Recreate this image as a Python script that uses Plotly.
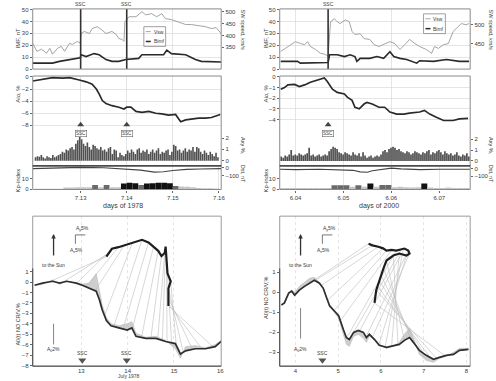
import numpy as np
import plotly.graph_objects as go

W, H = 496, 381

# ======================= DATA : July 1978 event =======================
ssc_1978 = [13.0, 14.0]
day_ticks_1978 = [13, 14, 15, 16]
day_ticklabels_1978 = ["7.13", "7.14", "7.15", "7.16"]

vsw78_day = [11.96, 12.05, 12.15, 12.26, 12.33, 12.39, 12.50, 12.58, 12.65, 12.76,
             12.82, 12.93, 12.99, 13.01, 13.08, 13.19, 13.25, 13.36, 13.45, 13.55,
             13.68, 13.77, 13.83, 13.90, 13.94, 13.96, 14.05, 14.20, 14.33, 14.41,
             14.54, 14.65, 14.76, 14.84, 14.97, 15.12, 15.28, 15.40, 15.56, 15.71,
             15.84, 15.94, 16.05]
vsw78 = [367, 333, 342, 325, 346, 321, 346, 354, 333, 367,
         362, 375, 367, 408, 417, 408, 429, 437, 425, 408,
         417, 404, 387, 383, 375, 458, 479, 479, 500, 487,
         492, 479, 492, 471, 467, 458, 446, 446, 442, 437,
         429, 433, 408]

bimf78_day = [11.96, 12.39, 12.54, 12.76, 12.93, 12.99, 13.01, 13.12, 13.29, 13.40,
              13.55, 13.68, 13.83, 13.98, 14.26, 14.33, 14.63, 14.80, 14.87, 14.97,
              15.28, 15.49, 15.62, 15.84, 16.05]
bimf78 = [5, 5, 6.5, 8, 9, 9.5, 12, 10.5, 13, 12,
          8, 6.5, 6.5, 8, 9, 12, 12, 12, 16, 13,
          12, 8, 6.5, 6.5, 6]

aio78_day = [11.96, 12.18, 12.39, 12.61, 12.76, 12.97, 13.12, 13.25, 13.34, 13.40,
             13.47, 13.55, 13.68, 13.83, 13.94, 14.00, 14.09, 14.20, 14.33, 14.48,
             14.63, 14.76, 14.91, 15.06, 15.17, 15.28, 15.40, 15.56, 15.71, 15.84,
             16.03]
aio78 = [-0.66, -0.4, -0.1, -0.2, -0.1, -0.5, -0.8, -1.2, -2.0, -2.8,
         -3.9, -4.4, -4.75, -5.0, -5.3, -5.0, -5.0, -5.7, -5.85, -5.7,
         -6.0, -6.1, -6.3, -6.2, -7.4, -7.1, -6.95, -6.8, -6.8, -6.7,
         -6.2]

axy78_start = 12.0   # hourly values from July 12.0
axy78 = [0.3, 0.4, 0.35, 0.5, 0.3, 0.2, 0.4, 0.3, 0.25, 0.5, 0.3, 0.4,
         0.5, 0.6, 0.8, 0.7, 1.0, 0.9, 1.1, 1.2, 1.0, 1.5, 1.8, 2.1,
         1.9, 1.5, 1.3, 1.6, 1.2, 1.0, 1.4, 1.3, 1.1, 1.0, 1.2, 0.9,
         1.0, 0.8, 1.1, 1.2, 0.6, 1.0, 0.9, 0.3, 0.7, 0.5, 0.4, 0.6,
         0.9, 0.7, 1.0, 0.8, 0.6, 1.0, 1.1, 0.7, 0.9, 0.8, 1.0, 0.6,
         0.8, 1.0, 0.7, 0.9, 1.1, 0.6, 0.8, 0.7, 0.9, 1.0, 0.5, 0.8,
         1.4, 1.3, 0.9, 1.0, 0.7, 0.9, 1.1, 0.8, 1.0, 0.9, 1.2, 0.8,
         1.2, 1.1, 0.8, 0.6, 0.9, 0.7, 0.5, 0.8, 0.6, 0.4, 0.7, 0.3]

kp78_start = 12.0    # 3-hourly values
kp78 = [0.5, 0.5, 0.5, 0.5, 0.5, 1.7, 1.7, 2.0,
        2.0, 2.0, 4.0, 2.0, 4.0, 2.0, 2.0, 5.3,
        6.0, 5.7, 4.0, 5.3, 5.7, 6.0, 6.0, 5.7,
        3.0, 2.7, 2.3, 2.0, 1.3, 1.0, 1.0, 0.7]

dst78_day = [11.96, 12.5, 13.0, 13.5, 14.0, 14.3, 14.6, 14.8, 15.0, 15.3, 15.6, 16.05]
dst78 = [-10, -5, 5, 0, -15, -30, -55, -50, -35, -20, -15, -10]

a0_78_day = [11.99, 12.16, 12.38, 12.53, 12.68, 12.89, 13.02, 13.17, 13.32, 13.39,
             13.45, 13.54, 13.64, 13.81, 13.99, 14.09, 14.18, 14.39, 14.61, 14.82,
             15.03, 15.14, 15.25, 15.46, 15.68, 15.89, 16.02]
a0_78 = [-0.3, -0.1, 0.08, -0.1, 0.08, -0.1, -0.3, -0.58, -0.87, -1.7,
         -2.66, -3.7, -4.2, -4.4, -4.6, -4.4, -5.2, -5.4, -5.4, -5.7,
         -5.9, -6.9, -6.6, -6.4, -6.4, -6.2, -5.7]
a0raw_78 = [-0.3, -0.2, 0.2, -0.2, 0.1, -0.1, -0.2, -0.1, 0.8, -0.8,
            -2.2, -3.4, -4.0, -4.2, -4.0, -3.8, -4.9, -5.3, -5.2, -5.6,
            -6.4, -7.3, -6.2, -6.1, -6.3, -6.0, -5.6]

hodo78_t = [12.3, 12.6, 12.9, 13.1, 13.3, 13.5, 13.7, 13.9, 14.1, 14.3,
            14.5, 14.65, 14.75, 14.85, 14.95, 15.05, 15.2, 15.4, 15.6, 15.85]
hodo78_x = [13.54, 13.60, 13.66, 13.80, 13.92, 14.10, 14.31, 14.45, 14.56, 14.66,
            14.73, 14.80, 14.82, 14.84, 14.86, 14.93, 14.88, 14.88, 14.87, 14.88]
hodo78_y = [2.45, 2.8, 3.2, 3.35, 3.5, 3.75, 4.06, 3.8, 3.4, 3.0,
            2.5, 2.8, 3.4, 2.07, 0.84, 0.08, -0.6, -1.53, -2.0, -2.29]

# ======================= DATA : June 2000 event =======================
ssc_2000 = [4.68]
day_ticks_2000 = [4, 5, 6, 7]
day_ticklabels_2000 = ["6.04", "6.05", "6.06", "6.07"]

vsw00_day = [3.69, 3.79, 3.90, 4.00, 4.10, 4.19, 4.25, 4.31, 4.42, 4.52,
             4.62, 4.68, 4.73, 4.81, 4.87, 4.93, 5.04, 5.12, 5.18, 5.24,
             5.35, 5.43, 5.55, 5.64, 5.74, 5.84, 5.97, 6.07, 6.18, 6.28,
             6.38, 6.49, 6.59, 6.73, 6.84, 6.90, 6.98, 7.09, 7.19, 7.29,
             7.36, 7.46, 7.56, 7.62]
vsw00 = [429, 437, 447, 455, 450, 447, 455, 442, 434, 424,
         421, 416, 508, 516, 508, 503, 513, 508, 482, 474,
         476, 463, 461, 447, 442, 447, 455, 450, 434, 447,
         461, 450, 442, 434, 424, 442, 437, 447, 450, 482,
         490, 503, 500, 503]

bimf00_day = [3.69, 4.04, 4.10, 4.60, 4.68, 4.71, 4.87, 5.02, 5.14, 5.24,
              5.28, 5.35, 5.55, 5.70, 5.84, 5.97, 6.05, 6.18, 6.32, 6.53,
              6.59, 6.88, 7.15, 7.42, 7.62]
bimf00 = [6.5, 6.5, 5, 5, 5.5, 12, 12, 10.5, 12, 10.5,
          6.5, 9, 9, 10.5, 9, 14.5, 10.5, 9, 8, 5,
          7, 6.5, 8, 6.5, 6.5]

aio00_day = [3.69, 3.77, 3.84, 3.98, 4.08, 4.19, 4.31, 4.46, 4.56, 4.60,
             4.66, 4.77, 4.87, 5.02, 5.08, 5.18, 5.24, 5.33, 5.43, 5.49,
             5.60, 5.74, 5.86, 5.97, 6.11, 6.26, 6.38, 6.59, 6.69, 6.80,
             6.94, 7.09, 7.29, 7.42, 7.60]
aio00 = [-1.15, -1.0, -0.75, -0.7, -0.9, -0.75, -0.5, -0.3, -0.2, -0.1,
         -0.4, -1.15, -1.45, -1.6, -1.9, -2.2, -2.85, -3.0, -2.55, -2.4,
         -2.55, -2.85, -2.85, -3.3, -3.5, -3.5, -3.4, -3.3, -3.15, -3.5,
         -3.8, -4.1, -4.1, -3.95, -3.9]

axy00_start = 3.68
axy00 = [0.4, 0.3, 0.5, 0.4, 0.6, 1.0, 0.5, 0.6, 0.5, 0.7, 0.6, 0.5,
         0.6, 0.7, 1.2, 0.5, 0.6, 0.4, 0.5, 0.6, 0.4, 0.5, 0.6, 0.5,
         0.9, 1.1, 1.3, 1.2, 1.1, 0.8, 0.7, 0.6, 0.8, 0.7, 0.6, 0.5,
         0.8, 0.6, 0.5, 0.7, 0.4, 0.8, 0.5, 0.3, 0.4, 0.5, 0.3, 0.4,
         0.5, 0.4, 0.6, 0.9, 1.0, 0.8, 1.1, 1.2, 1.3, 1.2, 1.0, 1.1,
         0.9, 0.8, 0.7, 0.9, 0.8, 0.6, 0.7, 0.9, 0.8, 0.7, 0.6, 0.8,
         0.7, 0.9, 1.0, 0.6, 0.8, 0.7, 0.9, 1.0, 0.8, 0.6, 0.9, 0.7,
         0.6, 0.7, 0.5, 0.6, 0.8, 0.5, 0.4, 0.6, 0.5, 0.7, 0.4]

kp00_start = 3.625
kp00 = [1.3, 1.3, 1.3, 1.3, 1.3, 1.3, 1.3, 1.3, 1.3, 3.7,
        3.7, 3.7, 2.3, 3.7, 2.3, 5.3, 2.3, 4.0, 4.0, 2.0,
        2.3, 2.0, 1.7, 2.0, 5.3, 1.7, 1.3, 1.3, 1.7, 1.3,
        1.3, 1.3]

dst00_day = [3.67, 4.0, 4.5, 4.8, 5.2, 5.35, 5.5, 5.6, 5.8, 6.0, 6.2, 6.6, 7.0, 7.64]
dst00 = [-5, -10, -5, -15, -20, -40, -45, -25, -10, 10, 0, -10, -5, -5]

a0_00_day = [3.67, 3.74, 3.84, 3.91, 3.98, 4.09, 4.21, 4.33, 4.44, 4.56,
             4.65, 4.73, 4.80, 4.91, 5.01, 5.12, 5.19, 5.26, 5.36, 5.47,
             5.59, 5.66, 5.73, 5.85, 5.96, 6.13, 6.29, 6.43, 6.55, 6.67,
             6.76, 6.90, 7.06, 7.23, 7.37, 7.53, 7.70, 7.84, 8.05]
a0_00 = [-0.63, -0.53, -0.04, 0.06, -0.14, 0.11, 0.3, 0.46, 0.6, 0.46,
         0.2, -0.28, -0.68, -0.93, -1.17, -1.86, -2.26, -2.36, -2.0, -1.9,
         -2.0, -2.26, -2.1, -2.36, -2.65, -2.75, -2.65, -2.6, -2.4, -2.26,
         -2.5, -2.9, -3.15, -3.35, -3.25, -3.15, -3.1, -2.9, -2.85]
a0raw_00 = [-0.63, -0.5, 0.0, 0.1, 0.0, 0.3, 0.5, 0.7, 0.75, 0.5,
            0.2, -0.3, -0.7, -1.0, -1.3, -2.1, -2.6, -2.7, -2.2, -2.1,
            -2.3, -2.5, -2.2, -2.3, -2.6, -2.8, -2.7, -2.5, -2.1, -1.8,
            -2.3, -3.1, -3.4, -3.5, -3.3, -3.2, -3.0, -2.8, -2.8]

hodo00_t = [4.3, 4.45, 4.6, 4.75, 4.9, 5.05, 5.2, 5.35, 5.5, 5.65, 5.8,
            5.95, 6.1, 6.25, 6.4, 6.55, 6.7, 6.85, 7.0, 7.15, 7.3, 7.5]
hodo00_x = [5.71, 5.80, 5.94, 6.05, 6.13, 6.25, 6.36, 6.48, 6.55, 6.64, 6.67,
            6.60, 6.50, 6.43, 6.29, 6.13, 6.06, 6.00, 5.96, 5.92, 5.89, 5.85]
hodo00_y = [2.43, 2.35, 2.28, 2.2, 2.09, 2.12, 2.09, 2.15, 2.19, 2.09, 1.94,
            1.84, 1.92, 1.94, 1.84, 1.59, 1.2, 0.85, 0.6, 0.3, 0.11, -0.53]

# ======================= helpers / styling =======================
FONT = "Liberation Sans, Arial, sans-serif"
TXT = "#3a3a3a"
GRID = "#d4d4d4"
tickfont = dict(family=FONT, size=6, color=TXT)


def pxx(x):
    return x / W


def pyy(y):
    return 1 - y / H


def ydom(top, bot):
    return [1 - bot / H, 1 - top / H]


XL = [33 / W, 223 / W]
XR = [282 / W, 474 / W]
D_TOP = ydom(7, 68)
D_MID = ydom(75, 166)
D_KP = ydom(166, 190)
D_BOT = ydom(217, 369)

fig = go.Figure()
layout = dict(width=W, height=H, margin=dict(l=0, r=0, t=0, b=0), autosize=False,
              paper_bgcolor="white", plot_bgcolor="white", showlegend=False,
              font=dict(family=FONT, size=6, color=TXT), bargap=0.12)
shapes = []
annotations = []


def xax(dom, rng, anchor, tickvals, ticktext=None, labels=False, griddash="solid", ticks=True):
    d = dict(domain=dom, range=rng, anchor=anchor, showgrid=True, gridcolor=GRID,
             gridwidth=0.6, griddash=griddash, zeroline=False, showline=False,
             tickvals=tickvals, showticklabels=labels, tickfont=tickfont,
             ticks="outside" if (labels and ticks) else "", ticklen=2, tickcolor="#666")
    if ticktext is not None:
        d["ticktext"] = ticktext
    return d


def yax(dom, rng, anchor, tickvals, ticktext=None, side="left", overlay=None, grid=False):
    d = dict(domain=dom, range=rng, anchor=anchor, side=side, showgrid=grid,
             gridcolor=GRID, gridwidth=0.6, zeroline=False, showline=False,
             tickvals=tickvals, tickfont=tickfont, ticks="outside", ticklen=2,
             tickcolor="#666")
    if ticktext is not None:
        d["ticktext"] = ticktext
    if overlay:
        d["overlaying"] = overlay
        d.pop("domain")
    return d


def frame(x0, y0, x1, y1, color="#8a8a8a", width=1):
    shapes.append(dict(type="rect", xref="paper", yref="paper", x0=pxx(x0), x1=pxx(x1),
                       y0=pyy(y1), y1=pyy(y0), line=dict(color=color, width=width),
                       fillcolor="rgba(0,0,0,0)", layer="above"))


def text(x, y, s, size=6, angle=0, anchor="center", color=TXT, **kw):
    annotations.append(dict(x=pxx(x), y=pyy(y), xref="paper", yref="paper", text=s,
                            showarrow=False, textangle=angle, xanchor=anchor,
                            yanchor="middle", font=dict(family=FONT, size=size, color=color), **kw))


def pline(x0, y0, x1, y1, color="#444", width=1):
    shapes.append(dict(type="line", xref="paper", yref="paper", x0=pxx(x0), x1=pxx(x1),
                       y0=pyy(y0), y1=pyy(y1), line=dict(color=color, width=width)))


def kp_color(v):
    if v >= 5:
        return "#111111"
    if v >= 3:
        return "#6a6a6a"
    return "#c4c4c4"


def build_column(c, ax, data, xr_top, xr_bot, ylim):
    (vday, vsw, bday, bimf, aday, aio, axy_start, axy, kp_start, kp, dday, dst,
     a0day, a0, a0raw, ht, hx, hy, ssc, dticks, dlabels, bticks) = data
    X = XL if c == 0 else XR
    n = ax
    xa = [f"x{n}" if n > 1 else "x", f"x{n+1}", f"x{n+2}", f"x{n+3}"]
    ybase = 1 if c == 0 else 8
    ya = ["y" if ybase == 1 else f"y{ybase}"] + [f"y{ybase+i}" for i in range(1, 7)]

    def key(a):
        return a.replace("x", "xaxis").replace("y", "yaxis") if len(a) > 1 else ("xaxis" if a == "x" else "yaxis")

    layout[key(xa[0])] = xax(X, xr_top, ya[0], dticks[:-1])
    layout[key(xa[1])] = xax(X, xr_top, ya[2], dticks[:-1])
    layout[key(xa[2])] = xax(X, xr_top, ya[4], dticks, dlabels, labels=True)
    layout[key(xa[3])] = xax(X, xr_bot, ya[6], bticks, labels=True, griddash="dot", ticks=False)
    layout[key(ya[0])] = yax(D_TOP, [0, 50.5], xa[0], [0, 10, 20, 30, 40, 50], grid=True)
    layout[key(ya[1])] = yax(None, ylim["vsw"], xa[0], ylim["vswt"], side="right", overlay=ya[0])
    layout[key(ya[2])] = yax(D_MID, ylim["aio"], xa[1], ylim["aiot"], grid=True)
    layout[key(ya[3])] = yax(None, ylim["axy"], xa[1], [0, 1, 2], side="right", overlay=ya[2])
    layout[key(ya[4])] = yax(D_KP, [-0.2, 21.8], xa[2], [0, 10])
    layout[key(ya[5])] = yax(None, ylim["dst"], xa[2], [0, -100], side="right", overlay=ya[4])
    layout[key(ya[6])] = yax(D_BOT, ylim["a0"], xa[3], ylim["a0t"])

    # --- top panel: Vsw & Bimf
    fig.add_trace(go.Scatter(x=vday, y=vsw, mode="lines", line=dict(color="#9a9a9a", width=0.9),
                             xaxis=xa[0], yaxis=ya[1]))
    fig.add_trace(go.Scatter(x=bday, y=bimf, mode="lines", line=dict(color="#2a2a2a", width=1.6),
                             xaxis=xa[0], yaxis=ya[0]))
    for s in ssc:
        shapes.append(dict(type="line", xref=xa[0], yref=f"{ya[0]} domain", x0=s, x1=s, y0=0, y1=1,
                           line=dict(color="#333", width=1.6)))
        annotations.append(dict(x=s, y=pyy(2.5), xref=xa[0], yref="paper", text="SSC", showarrow=False,
                                font=dict(family=FONT, size=5, color=TXT), yanchor="middle"))

    # --- mid panel: Aio + Axy bars
    axy_t = axy_start + (np.arange(len(axy)) + 0.5) / 24.0
    fig.add_trace(go.Bar(x=axy_t, y=axy, width=1 / 24 * 0.85, marker=dict(color="#505050", line=dict(width=0)),
                         xaxis=xa[1], yaxis=ya[3]))
    fig.add_trace(go.Scatter(x=aday, y=aio, mode="lines", line=dict(color="#2a2a2a", width=1.7),
                             xaxis=xa[1], yaxis=ya[2]))
    tri_y = ylim["ssc_mid"]
    fig.add_trace(go.Scatter(x=ssc, y=[tri_y] * len(ssc), mode="markers",
                             marker=dict(symbol="triangle-up", size=6, color="#444"),
                             xaxis=xa[1], yaxis=ya[2]))
    for s in ssc:
        annotations.append(dict(x=s, y=pyy(133), xref=xa[1], yref="paper", text="SSC", showarrow=False,
                                font=dict(family=FONT, size=4.5, color=TXT), bordercolor="#666",
                                borderwidth=0.6, borderpad=0.5, yanchor="middle"))

    # --- Kp / Dst panel
    kp_t = kp_start + (np.arange(len(kp)) + 0.5) / 8.0
    fig.add_trace(go.Bar(x=kp_t, y=kp, width=0.125, marker=dict(color=[kp_color(v) for v in kp],
                                                               line=dict(width=0)),
                         xaxis=xa[2], yaxis=ya[4]))
    fig.add_trace(go.Scatter(x=dday, y=dst, mode="lines", line=dict(color="#444", width=1.1),
                             xaxis=xa[2], yaxis=ya[5]))

    # --- bottom panel
    fig.add_trace(go.Scatter(x=a0day, y=a0, mode="lines", line=dict(color="rgba(0,0,0,0)", width=0),
                             xaxis=xa[3], yaxis=ya[6]))
    fig.add_trace(go.Scatter(x=a0day, y=a0raw, mode="lines", line=dict(color="#b8b8b8", width=0.6),
                             fill="tonexty", fillcolor="rgba(190,190,190,0.75)",
                             xaxis=xa[3], yaxis=ya[6]))
    cx, cy = [], []
    for t, hxv, hyv in zip(ht, hx, hy):
        cx += [t, hxv, None]
        cy += [float(np.interp(t, a0day, a0)), hyv, None]
    fig.add_trace(go.Scatter(x=cx, y=cy, mode="lines", line=dict(color="#bcbcbc", width=0.6),
                             xaxis=xa[3], yaxis=ya[6]))
    fig.add_trace(go.Scatter(x=a0day, y=a0, mode="lines", line=dict(color="#2e2e2e", width=1.7),
                             xaxis=xa[3], yaxis=ya[6]))
    fig.add_trace(go.Scatter(x=hx, y=hy, mode="lines", line=dict(color="#1e1e1e", width=2.2),
                             xaxis=xa[3], yaxis=ya[6]))
    fig.add_trace(go.Scatter(x=ylim["ssc_bot_x"], y=[ylim["ssc_bot_y"]] * len(ylim["ssc_bot_x"]),
                             mode="markers", marker=dict(symbol="triangle-down", size=7, color="#555"),
                             xaxis=xa[3], yaxis=ya[6]))
    for s in ylim["ssc_bot_x"]:
        annotations.append(dict(x=s, y=pyy(356), xref=xa[3], yref="paper", text="SSC", showarrow=False,
                                font=dict(family=FONT, size=5, color=TXT), yanchor="middle"))


lim78 = dict(vsw=[258, 512], vswt=[350, 400, 450, 500], aio=[-14.7, 0.16], aiot=[0, -2, -4, -6, -8],
             axy=[-0.45, 7.47], dst=[-275, 25], a0=[-8.07, 6.33], a0t=list(range(-8, 2)),
             ssc_mid=-7.9, ssc_bot_x=[13.02, 13.98], ssc_bot_y=-7.5)
lim00 = dict(vsw=[382, 542], vswt=[450, 500], aio=[-8.37, 0.09], aiot=[0, -1, -2, -3, -4],
             axy=[-0.45, 7.8], dst=[-275, 40], a0=[-3.69, 3.81], a0t=[-3, -2, -1, 0, 1],
             ssc_mid=-4.5, ssc_bot_x=[4.63], ssc_bot_y=-3.4)

data78 = (vsw78_day, vsw78, bimf78_day, bimf78, aio78_day, aio78, axy78_start, axy78,
          kp78_start, kp78, dst78_day, dst78, a0_78_day, a0_78, a0raw_78,
          hodo78_t, hodo78_x, hodo78_y, ssc_1978, day_ticks_1978, day_ticklabels_1978,
          [13, 14, 15, 16])
data00 = (vsw00_day, vsw00, bimf00_day, bimf00, aio00_day, aio00, axy00_start, axy00,
          kp00_start, kp00, dst00_day, dst00, a0_00_day, a0_00, a0raw_00,
          hodo00_t, hodo00_x, hodo00_y, ssc_2000, day_ticks_2000, day_ticklabels_2000,
          [4, 5, 6, 7, 8])

build_column(0, 1, data78, [11.96, 16.05], [11.95, 16.02], lim78)
build_column(1, 5, data00, [3.67, 7.645], [3.63, 8.09], lim00)

# ---------------- frames ----------------
for (x0, x1) in [(33, 223), (282, 474)]:
    frame(x0, 7, x1, 68)
    frame(x0, 75, x1, 166)
    frame(x0, 166, x1, 190)
    frame(x0, 217, x1, 369, color="#9a9a9a")
    pline(x0, 166, x1, 166, color="#333", width=1.3)
pline(33, 270, 33, 369, color="#444", width=1)
pline(33, 369, 223, 369, color="#444", width=1)
pline(282, 270, 282, 369, color="#444", width=1)
pline(282, 369, 474, 369, color="#444", width=1)

# ---------------- axis titles ----------------
for off, yr in [(0, "1978"), (250, "2000")]:
    text(18 + off, 37, "IMF, nT", angle=-90)
    text(18 + off, 93, "Aio, %", angle=-90)
    text(18 + off, 181, "Kp-index", angle=-90)
    text(245 + off, 28, "SW speed, km/s", angle=90, size=5.5)
    text(245 + off, 146, "Axy %,", angle=90, size=5.5)
    text(245 + off, 174, "Dst, nT", angle=90, size=5.5)
    text(124 + off if off == 0 else 382, 207, "days of " + yr, size=7)

text(18, 327, "A0(t) NO CR/V,%", angle=-90, size=5.5)
text(268, 300, "A0(t) NO CR/V,%", angle=-90, size=5.5)
text(130, 379, "July 1978", size=5)

# ---------------- legends ----------------
for bx, by in [(145, 25), (427, 12)]:
    frame(bx, by, bx + 22, by + 20, color="#888", width=0.8)
    pline(bx + 2, by + 5, bx + 7, by + 5, color="#9a9a9a", width=0.9)
    pline(bx + 2, by + 15, bx + 7, by + 15, color="#2a2a2a", width=1.5)
    text(bx + 8, by + 5, "Vsw", size=5, anchor="left")
    text(bx + 8, by + 15, "Bimf", size=5, anchor="left")

# ---------------- bottom panel markers ----------------
for ox, scx, a0top, a0bot in [(54, 76, 326, 347), (303, 325, 310, 341)]:
    annotations.append(dict(x=pxx(ox), y=pyy(235), xref="paper", yref="paper", text="",
                            showarrow=True, ax=0, ay=23, arrowhead=2, arrowsize=0.7,
                            arrowwidth=1.3, arrowcolor="#333"))
    text(ox, 267, "to the Sun", size=5)
    pline(scx, 236, scx + 10, 236, color="#555", width=0.8)
    pline(scx, 236, scx, 245, color="#555", width=0.8)
    text(scx + 7, 230, "A<sub>y</sub>5%", size=5)
    text(scx + 1, 252, "A<sub>x</sub>5%", size=5)
    pline(ox, a0top, ox, a0bot, color="#666", width=0.8)
    text(ox, 352, "A<sub>0</sub>2%", size=5)

layout["shapes"] = shapes
layout["annotations"] = annotations
fig.update_layout(**layout)
fig.write_html("out.html", config={"displayModeBar": False, "staticPlot": True},
               post_script="document.body.style.margin='0';document.body.style.overflow='hidden';")
